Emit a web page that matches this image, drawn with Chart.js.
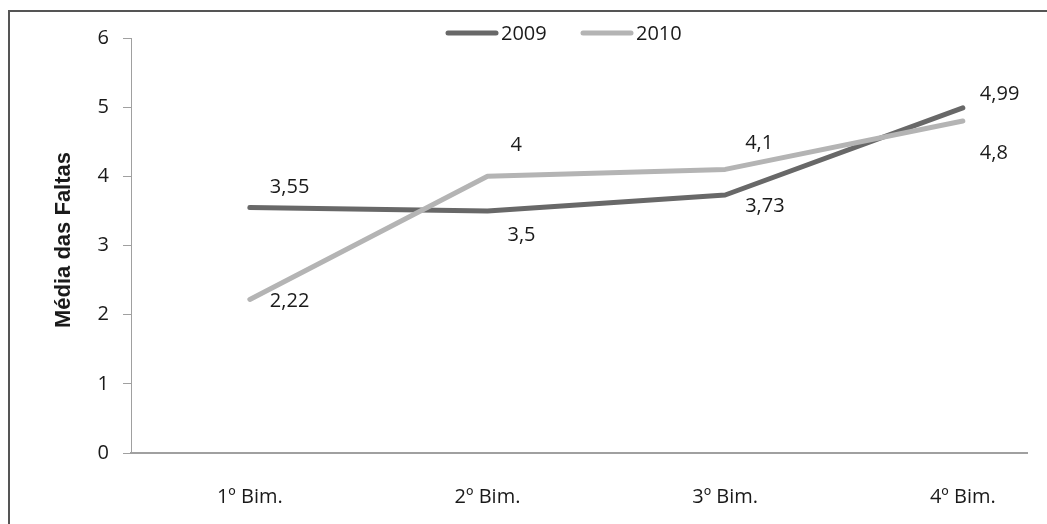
<!DOCTYPE html>
<html>
<head>
<meta charset="utf-8">
<script src="https://cdn.jsdelivr.net/npm/chart.js@4/dist/chart.umd.min.js"></script>
<style>
  html, body { margin: 0; padding: 0; background: #fff; overflow: hidden; }
  #wrap { position: relative; width: 1047px; height: 524px; }
  #frame {
    position: absolute; left: 8px; top: 10px; width: 1100px; height: 600px;
    border-left: 2px solid #555; border-top: 2px solid #555;
  }
  canvas { position: absolute; left: 0; top: 0; }
</style>
</head>
<body>
<div id="wrap">
  <div id="frame"></div>
  <canvas id="chartID" width="1047" height="524"></canvas>
</div>
<script>
const categories = ["1º Bim.", "2º Bim.", "3º Bim.", "4º Bim."];
const values2009 = [3.55, 3.5, 3.73, 4.99];
const values2010 = [2.22, 4, 4.1, 4.8];
const yTicks = [0, 1, 2, 3, 4, 5, 6];
const yTitle = "Média das Faltas";

// label offsets (dx, dy) from each point, as placed in the original
const offsets2009 = [[20, -20], [20, 24], [20, 11], [17, -14]];
const offsets2010 = [[20, 2], [23, -31], [20, -26], [17, 32]];

const color2009 = "#686868";
const color2010 = "#b4b4b4";
const textFont = "20px 'Open Sans'";

function toPoints(values) {
  return values.map((v, i) => ({ x: i + 1, y: v }));
}

function fmt(v) {
  return String(v).replace(".", ",");
}

// draws data labels, legend and the y title
const extras = {
  id: "extras",
  afterDatasetsDraw(chart) {
    const ctx = chart.ctx;
    const allOffsets = [offsets2009, offsets2010];
    ctx.save();
    ctx.font = textFont;
    ctx.fillStyle = "#1a1a1a";
    ctx.textAlign = "left";
    ctx.textBaseline = "middle";
    chart.data.datasets.forEach((ds, d) => {
      const meta = chart.getDatasetMeta(d);
      meta.data.forEach((pt, i) => {
        const off = allOffsets[d][i];
        ctx.fillText(fmt(ds.data[i].y), pt.x + off[0], pt.y + off[1]);
      });
    });

    // legend
    let lx = 448;
    const ly = 33;
    chart.data.datasets.forEach((ds) => {
      ctx.strokeStyle = ds.borderColor;
      ctx.lineWidth = 5;
      ctx.lineCap = "round";
      ctx.beginPath();
      ctx.moveTo(lx, ly);
      ctx.lineTo(lx + 48, ly);
      ctx.stroke();
      ctx.fillText(ds.label, lx + 53, ly + 1);
      lx += 135;
    });

    // y title
    ctx.font = "bold 22px 'Liberation Sans'";
    ctx.textAlign = "center";
    ctx.translate(64, 240);
    ctx.rotate(-Math.PI / 2);
    ctx.fillText(yTitle, 0, 0);
    ctx.restore();
  },
};

const context = document.getElementById("chartID").getContext("2d");
new Chart(context, {
  type: "line",
  data: {
    datasets: [
      {
        label: "2009",
        data: toPoints(values2009),
        borderColor: color2009,
        borderWidth: 5,
        pointRadius: 0,
        order: 1,
      },
      {
        label: "2010",
        data: toPoints(values2010),
        borderColor: color2010,
        borderWidth: 5,
        pointRadius: 0,
        order: 0,
      },
    ],
  },
  options: {
    responsive: false,
    animation: false,
    layout: { padding: { left: 0, top: 38, right: 20, bottom: 0 } },
    plugins: { legend: { display: false }, tooltip: { enabled: false } },
    elements: { line: { borderJoinStyle: "round", borderCapStyle: "round", tension: 0 } },
    scales: {
      x: {
        type: "linear",
        min: 0.5,
        max: 4.27,
        afterBuildTicks: (scale) => {
          scale.ticks = categories.map((c, i) => ({ value: i + 1 }));
        },
        afterFit: (scale) => { scale.height = 71; },
        ticks: {
          callback: (v) => categories[v - 1],
          font: { family: "'Open Sans'", size: 20 },
          color: "#1a1a1a",
          padding: 32,
          maxRotation: 0,
        },
        grid: { display: false, drawTicks: false },
        border: { color: "#a0a0a0", width: 2 },
      },
      y: {
        min: 0,
        max: 6,
        afterBuildTicks: (scale) => {
          scale.ticks = yTicks.map((v) => ({ value: v }));
        },
        afterFit: (scale) => { scale.width = 131; },
        ticks: {
          font: { family: "'Open Sans'", size: 20 },
          color: "#1a1a1a",
          padding: 14,
        },
        grid: { drawOnChartArea: false, drawTicks: true, tickLength: 8, color: "#a0a0a0", lineWidth: 1 },
        border: { color: "#a0a0a0", width: 1 },
      },
    },
  },
  plugins: [extras],
});
</script>
</body>
</html>
